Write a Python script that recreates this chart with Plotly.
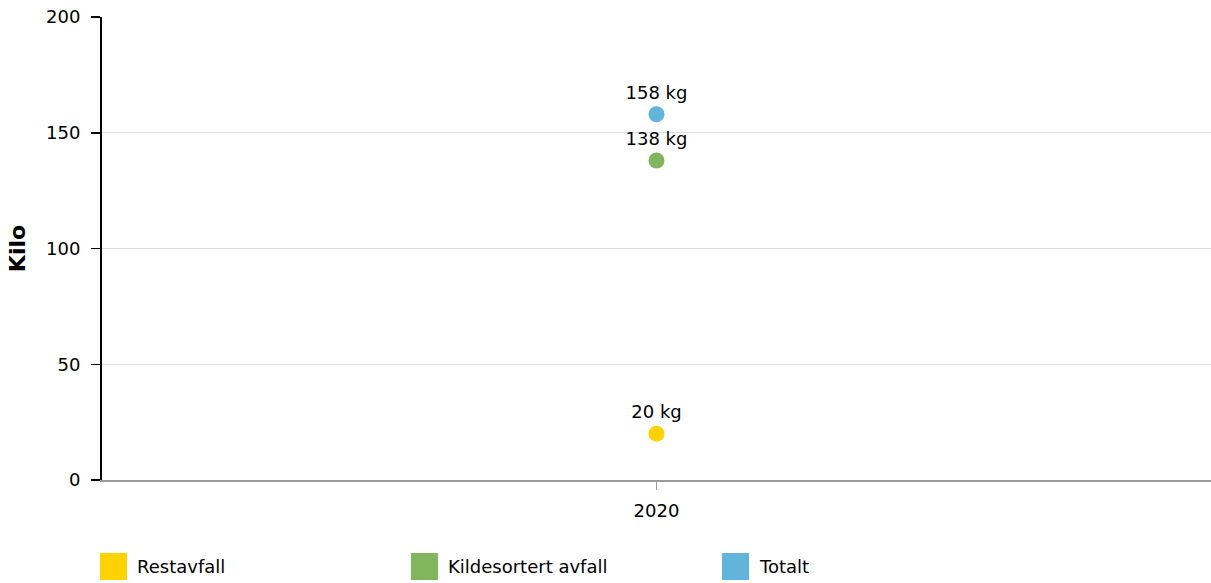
import plotly.graph_objects as go

years = ["2020"]
series_names = ["Restavfall", "Kildesortert avfall", "Totalt"]
series_values = [[20], [138], [158]]
series_colors = ["#FFD200", "#82B65E", "#63B4DA"]

FONT = "DejaVu Sans, Verdana, sans-serif"

fig = go.Figure()

for name, vals, color in zip(series_names, series_values, series_colors):
    fig.add_trace(go.Scatter(
        x=years, y=vals, mode="markers+text",
        marker=dict(size=16, color=color),
        text=[f"{v} kg" for v in vals],
        textposition="top center",
        textfont=dict(size=18, color="#000000"),
        name=name, showlegend=False,
    ))

# hand-made legend below the plot: big square swatches, evenly spaced
plot_w, plot_h = 1109, 463
step = 311 / plot_w
for i, (name, color) in enumerate(zip(series_names, series_colors)):
    x0 = -2 / plot_w + i * step
    fig.add_shape(
        type="rect", xref="paper", yref="paper",
        x0=x0, x1=x0 + 27 / plot_w, y0=-100 / plot_h, y1=-73 / plot_h,
        fillcolor=color, line=dict(width=0),
    )
    fig.add_annotation(
        text=name, xref="paper", yref="paper",
        x=x0 + 35 / plot_w, y=-86.5 / plot_h,
        xanchor="left", yanchor="middle", showarrow=False,
        font=dict(size=18, color="#000000"),
    )

fig.update_layout(
    width=1211, height=583,
    margin=dict(l=102, r=0, t=17, b=103),
    plot_bgcolor="white", paper_bgcolor="white",
    font=dict(family=FONT, size=18, color="#000000"),
    showlegend=False,
    hovermode=False,
)

fig.update_xaxes(
    type="category", showgrid=False,
    showline=True, linecolor="#9a9a9a", linewidth=1.5,
    ticks="outside", tickcolor="#9a9a9a", ticklen=8,
    ticklabelstandoff=6,
)
fig.update_yaxes(
    range=[0, 200], tickvals=[0, 50, 100, 150, 200],
    showgrid=True, gridcolor="#dddddd", gridwidth=1,
    showline=True, linecolor="#000000", linewidth=2,
    ticks="outside", tickcolor="#000000", ticklen=9, tickwidth=1.5,
    ticklabelstandoff=7,
    zeroline=False,
    title=dict(text="<b>Kilo</b>", standoff=14),
)

# drop the default page margin so the figure fills the window exactly
fig.write_html(
    "out.html",
    config={"displayModeBar": False, "staticPlot": True},
    post_script="document.body.style.margin='0';document.body.style.overflow='hidden';",
)
